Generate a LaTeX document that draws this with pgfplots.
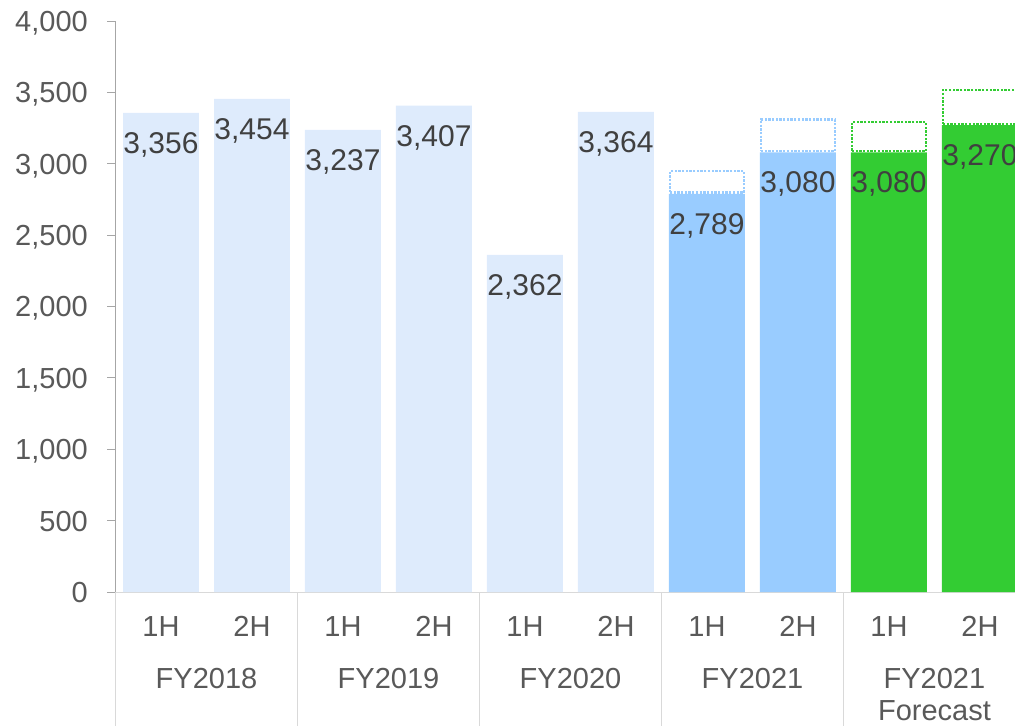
\documentclass[border=0pt]{standalone}
\usepackage{pgfplots}
\pgfplotsset{compat=1.18}
\usepackage{fontspec}
\setmainfont{Liberation Sans}
\definecolor{cLB}{HTML}{DEEBFC}
\definecolor{cB}{HTML}{99CCFF}
\definecolor{cG}{HTML}{33CC33}
\definecolor{cLab}{HTML}{404040}
\definecolor{cTick}{HTML}{595959}
\definecolor{cAx}{HTML}{A6A6A6}
\definecolor{cSep}{HTML}{D9D9D9}
\newcommand{\bigf}{\fontsize{29}{34}\selectfont}
\newcommand{\labf}{\fontsize{30}{35}\selectfont}
\begin{document}
\begin{tikzpicture}
\useasboundingbox (-115.5pt,-134pt) rectangle (899.5pt,592pt);
\clip (-115.5pt,-134pt) rectangle (899.5pt,592pt);
\begin{axis}[
  at={(0pt,0pt)}, anchor=south west,
  scale only axis, width=899.5pt, height=571pt,
  xmin=-0.5, xmax=9.385, ymin=0, ymax=4000,
  axis x line*=bottom, axis y line*=left,
  x axis line style={draw=cSep, line width=1pt},
  y axis line style={draw=cAx, line width=1pt},
  ytick={0,500,...,4000},
  ytick style={draw=cAx, line width=1pt},
  tick align=outside, major tick length=8pt,
  xtick={0,...,9}, xticklabels={1H,2H,1H,2H,1H,2H,1H,2H,1H,2H},
  xtick style={draw=none},
  /pgf/number format/.cd, 1000 sep={,}, assume math mode=true, /pgfplots/.cd,
  tick label style={font=\bigf, text=cTick},
  yticklabel style={anchor=base east, inner sep=0pt, xshift=-19.5pt, yshift=-10.4pt},
  xticklabel style={anchor=base, inner sep=0pt, yshift=-36pt},
  clip mode=individual,
  every node near coord/.append style={font=\labf, text=cLab, anchor=base, yshift=-40.5pt, inner sep=0pt},
]
% actual bars
\addplot[ybar, bar width=0.835, bar shift=0pt, fill=cLB, draw=none, nodes near coords]
  coordinates {(0,3356) (1,3454) (2,3237) (3,3407) (4,2362) (5,3364)};
\addplot[ybar, bar width=0.835, bar shift=0pt, fill=cB, draw=none, nodes near coords]
  coordinates {(6,2789) (7,3080)};
\addplot[ybar, bar width=0.835, bar shift=0pt, fill=cG, draw=none, nodes near coords]
  coordinates {(8,3080) (9,3270)};
% dotted boxes (earlier targets)
\addplot[sharp plot, mark=none, draw=cB, line width=2.6pt, dash pattern=on 2.3pt off 1.4pt]
  coordinates {(5.5935,2797) (6.4065,2797) (6.4065,2949) (5.5935,2949)} --cycle;
\addplot[sharp plot, mark=none, draw=cB, line width=2.6pt, dash pattern=on 2.3pt off 1.4pt]
  coordinates {(6.5935,3088) (7.4065,3088) (7.4065,3311) (6.5935,3311)} --cycle;
\addplot[sharp plot, mark=none, draw=cG, line width=2.6pt, dash pattern=on 2.3pt off 1.4pt]
  coordinates {(7.5935,3088) (8.4065,3088) (8.4065,3292) (7.5935,3292)} --cycle;
\addplot[sharp plot, mark=none, draw=cG, line width=2.6pt, dash pattern=on 2.3pt off 1.4pt]
  coordinates {(8.5935,3278) (9.4065,3278) (9.4065,3517) (8.5935,3517)} --cycle;
% group separators
\draw[cSep, line width=1pt] (axis cs:-0.5,0) -- ++(0pt,-134pt);
\draw[cSep, line width=1pt] (axis cs:1.5,0) -- ++(0pt,-134pt);
\draw[cSep, line width=1pt] (axis cs:3.5,0) -- ++(0pt,-134pt);
\draw[cSep, line width=1pt] (axis cs:5.5,0) -- ++(0pt,-134pt);
\draw[cSep, line width=1pt] (axis cs:7.5,0) -- ++(0pt,-134pt);
% group labels
\node[font=\bigf, text=cTick, anchor=base, inner sep=0pt, yshift=-96pt] at (axis cs:0.5,0) {FY2018};
\node[font=\bigf, text=cTick, anchor=base, inner sep=0pt, yshift=-96pt] at (axis cs:2.5,0) {FY2019};
\node[font=\bigf, text=cTick, anchor=base, inner sep=0pt, yshift=-96pt] at (axis cs:4.5,0) {FY2020};
\node[font=\bigf, text=cTick, anchor=base, inner sep=0pt, yshift=-96pt] at (axis cs:6.5,0) {FY2021};
\node[font=\bigf, text=cTick, anchor=base, inner sep=0pt, yshift=-96pt] at (axis cs:8.5,0) {FY2021};
\node[font=\bigf, text=cTick, anchor=base, inner sep=0pt, yshift=-128pt] at (axis cs:8.5,0) {Forecast};
\end{axis}
\end{tikzpicture}
\end{document}
